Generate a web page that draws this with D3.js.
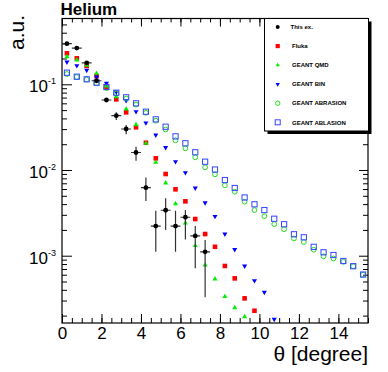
<!DOCTYPE html>
<html>
<head>
<meta charset="utf-8">
<script src="https://cdn.jsdelivr.net/npm/d3@7"></script>
<style>
  body { margin: 0; background: #fff; }
  svg { display: block; font-family: "Liberation Sans", Arial, Helvetica, sans-serif; }
</style>
</head>
<body>
<svg id="chart"></svg>
<script>
// bin centres in degrees (0.5 deg bins)
const thetaBins = [0.25, 0.75, 1.25, 1.75, 2.25, 2.75, 3.25, 3.75, 4.25, 4.75,
  5.25, 5.75, 6.25, 6.75, 7.25, 7.75, 8.25, 8.75, 9.25, 9.75,
  10.25, 10.75, 11.25, 11.75, 12.25, 12.75, 13.25, 13.75, 14.25, 14.75, 15.25];
const binHalfWidth = 0.25;

// this experiment, with lower / upper error
const thisEx = [0.298, 0.265, 0.178, 0.110, 0.0656, 0.0430, 0.0301, 0.0160, 0.00622, 0.00222,
  0.00339, 0.00222, 0.00281, 0.00170, 0.00111];
const thisExLow = [0.290, 0.257, 0.172, 0.106, 0.0625, 0.0383, 0.0261, 0.01284, 0.00435, 0.00111,
  0.00200, 0.00111, 0.00155, 0.000713, 0.000327];
const thisExHigh = [0.306, 0.273, 0.184, 0.114, 0.0690, 0.0471, 0.0335, 0.0187, 0.00818, 0.00335,
  0.00468, 0.00335, 0.00341, 0.00222, 0.00153];

const fluka = [0.230, 0.201, 0.164, 0.125, 0.0923, 0.0668, 0.0471, 0.0315, 0.0208, 0.01368,
  0.00898, 0.00595, 0.00431, 0.00268, 0.00179, 0.00127, 0.000759, 0.000544, 0.000318, 0.000228];
const geantQMD = [0.210, 0.192, 0.167, 0.134, 0.0955, 0.0716, 0.0515, 0.0338, 0.0205, 0.0123,
  0.00705, 0.00404, 0.00241, 0.00131, 0.000778, 0.000535, 0.000333, 0.000247, 0.000194];
const geantBIN = [0.182, 0.165, 0.1457, 0.1217, 0.1027, 0.0813, 0.0644, 0.0479, 0.0354, 0.0256,
  0.0183, 0.0125, 0.0093, 0.00617, 0.00415, 0.00288, 0.00179, 0.00118, 0.000758, 0.000511,
  0.000374, 0.000181];
const geantAbrasion = [0.1319, 0.1217, 0.1138, 0.1035, 0.0905, 0.0781, 0.0683, 0.0581, 0.0466, 0.0376,
  0.0297, 0.0222, 0.0179, 0.01406, 0.01075, 0.00891, 0.00663, 0.00558, 0.00427, 0.00341,
  0.00289, 0.00234, 0.00204, 0.00159, 0.001445, 0.001175, 0.000984, 0.000928, 0.000849, 0.000752,
  0.000600];
const geantAblasion = [0.1366, 0.1227, 0.1144, 0.1044, 0.0930, 0.0798, 0.0705, 0.0600, 0.0479, 0.0390,
  0.0320, 0.0247, 0.0205, 0.0161, 0.0125, 0.01013, 0.00764, 0.00617, 0.00478, 0.00398,
  0.00341, 0.00270, 0.00233, 0.00178, 0.00164, 0.00127, 0.001096, 0.001019, 0.000868, 0.000754,
  0.000603];

const legendLabels = ["This ex.", "Fluka", "GEANT QMD", "GEANT BIN", "GEANT ABRASION", "GEANT ABLASION"];
const xTickLabels = [0, 2, 4, 6, 8, 10, 12, 14];
const yTickLabels = [1e-1, 1e-2, 1e-3];

const width = 388;
const height = 372;
const margin = ({ top: 18.5, right: 20, bottom: 49, left: 62 });
const innerRight = width - margin.right;
const innerBottom = height - margin.bottom;

const svg = d3.select("#chart")
  .attr("width", width)
  .attr("height", height);

// scales
let x = d3.scaleLinear()
  .domain([0, 15.5])
  .range([margin.left, innerRight]);

let y = d3.scaleLog()
  .domain([1.64e-4, 0.586])
  .range([innerBottom, margin.top]);

svg.append("defs").append("clipPath").attr("id", "plotclip")
  .append("rect")
  .attr("x", margin.left).attr("y", margin.top)
  .attr("width", innerRight - margin.left).attr("height", innerBottom - margin.top);

// ticks
const xMinor = d3.range(0, 15.51, 0.5);
const yMinor = y.ticks().filter(d => !yTickLabels.some(m => Math.abs(m - d) / d < 1e-6));

const tickAxis = (g, axis) => g.call(axis)
  .call(g => g.select(".domain").remove())
  .call(g => g.selectAll("line").attr("stroke", "#000"));

svg.append("g").attr("transform", `translate(0,${innerBottom})`)
  .call(g => tickAxis(g, d3.axisBottom(x).tickValues(xTickLabels).tickSize(-9).tickFormat(d3.format("d"))))
  .call(g => g.selectAll("text")
    .attr("dy", null).attr("y", 16)
    .attr("font-size", 17).attr("font-family", null).attr("fill", "#000"));
svg.append("g").attr("transform", `translate(0,${innerBottom})`)
  .call(g => tickAxis(g, d3.axisBottom(x).tickValues(xMinor).tickSize(-5).tickFormat("")));
svg.append("g").attr("transform", `translate(0,${margin.top})`)
  .call(g => tickAxis(g, d3.axisTop(x).tickValues(xTickLabels).tickSize(-8).tickFormat("")));
svg.append("g").attr("transform", `translate(0,${margin.top})`)
  .call(g => tickAxis(g, d3.axisTop(x).tickValues(xMinor).tickSize(-4).tickFormat("")));

svg.append("g").attr("transform", `translate(${margin.left},0)`)
  .call(g => tickAxis(g, d3.axisLeft(y).tickValues(yTickLabels).tickSize(-10).tickFormat("")));
svg.append("g").attr("transform", `translate(${margin.left},0)`)
  .call(g => tickAxis(g, d3.axisLeft(y).tickValues(yMinor).tickSize(-5).tickFormat("")));
svg.append("g").attr("transform", `translate(${innerRight},0)`)
  .call(g => tickAxis(g, d3.axisRight(y).tickValues(yTickLabels).tickSize(-9).tickFormat("")));
svg.append("g").attr("transform", `translate(${innerRight},0)`)
  .call(g => tickAxis(g, d3.axisRight(y).tickValues(yMinor).tickSize(-5).tickFormat("")));

// y labels 10^-n
const yLab = svg.append("g").selectAll("text")
  .data(yTickLabels)
  .enter()
  .append("text")
  .attr("x", 56)
  .attr("y", d => y(d) + 8)
  .attr("text-anchor", "end")
  .attr("font-size", 17);
yLab.append("tspan").text("10");
yLab.append("tspan")
  .attr("font-size", 9)
  .attr("dy", -8)
  .text(d => "-" + Math.round(-Math.log10(d)));

// frame
svg.append("rect")
  .attr("x", margin.left).attr("y", margin.top)
  .attr("width", innerRight - margin.left).attr("height", innerBottom - margin.top)
  .attr("fill", "none").attr("stroke", "#000").attr("stroke-width", 1.2);

// data
const plot = svg.append("g").attr("clip-path", "url(#plotclip)");

const sq = 4.6;
const tri = 11;

function series(values) {
  return values.map((v, i) => ({ t: thetaBins[i], v: v }));
}

function drawMarkers(values, kind, colour) {
  const g = plot.append("g");
  const pts = series(values);
  if (kind === "square") {
    g.selectAll("rect").data(pts).enter().append("rect")
      .attr("x", d => x(d.t) - sq / 2).attr("y", d => y(d.v) - sq / 2)
      .attr("width", sq).attr("height", sq).attr("fill", colour);
  } else if (kind === "openSquare") {
    g.selectAll("rect").data(pts).enter().append("rect")
      .attr("x", d => x(d.t) - 2.6).attr("y", d => y(d.v) - 2.6)
      .attr("width", 5.2).attr("height", 5.2)
      .attr("fill", "none").attr("stroke", colour).attr("stroke-width", 1);
  } else if (kind === "openCircle") {
    g.selectAll("circle").data(pts).enter().append("circle")
      .attr("cx", d => x(d.t)).attr("cy", d => y(d.v)).attr("r", 2.4)
      .attr("fill", "none").attr("stroke", colour).attr("stroke-width", 1);
  } else if (kind === "circle") {
    g.selectAll("circle").data(pts).enter().append("circle")
      .attr("cx", d => x(d.t)).attr("cy", d => y(d.v)).attr("r", 2.4)
      .attr("fill", colour);
  } else {
    g.selectAll("path").data(pts).enter().append("path")
      .attr("d", d3.symbol(d3.symbolTriangle, tri))
      .attr("transform", d => `translate(${x(d.t)},${y(d.v)})` + (kind === "triDown" ? " rotate(180)" : ""))
      .attr("fill", colour);
  }
}

drawMarkers(fluka, "square", "#ff0000");
drawMarkers(geantQMD, "triUp", "#00ee00");
drawMarkers(geantBIN, "triDown", "#0000ff");
drawMarkers(geantAbrasion, "openCircle", "#22dd22");
drawMarkers(geantAblasion, "openSquare", "#3344ff");

// this experiment with error bars
const exPts = thisEx.map((v, i) => ({ t: thetaBins[i], v: v, lo: thisExLow[i], hi: thisExHigh[i] }));
const exG = plot.append("g");
exG.selectAll(".ey").data(exPts).enter().append("line")
  .attr("x1", d => x(d.t)).attr("x2", d => x(d.t))
  .attr("y1", d => y(d.lo)).attr("y2", d => y(d.hi))
  .attr("stroke", "#333").attr("stroke-width", 1.2);
exG.selectAll(".ex").data(exPts).enter().append("line")
  .attr("x1", d => x(d.t - binHalfWidth)).attr("x2", d => x(d.t + binHalfWidth))
  .attr("y1", d => y(d.v)).attr("y2", d => y(d.v))
  .attr("stroke", "#333").attr("stroke-width", 1.2);
drawMarkers(thisEx, "circle", "#000");

// legend
const legX = 264.5, legY = 18.5, legW = 104, legH = 112.5;
svg.append("rect").attr("x", legX + 3).attr("y", legY + 3)
  .attr("width", legW).attr("height", legH).attr("fill", "#000");
svg.append("rect").attr("x", legX).attr("y", legY)
  .attr("width", legW).attr("height", legH)
  .attr("fill", "#fff").attr("stroke", "#000").attr("stroke-width", 1);

const legendKinds = [
  ["circle", "#000"], ["square", "#ff0000"], ["triUp", "#00ee00"],
  ["triDown", "#0000ff"], ["openCircle", "#22dd22"], ["openSquare", "#3344ff"]
];
const leg = svg.append("g");
legendLabels.forEach((lab, i) => {
  const ly = 27 + i * 19.06;
  const [kind, colour] = legendKinds[i];
  const mx = 277.7;
  if (kind === "circle") {
    leg.append("circle").attr("cx", mx).attr("cy", ly).attr("r", 2).attr("fill", colour);
  } else if (kind === "square") {
    leg.append("rect").attr("x", mx - 2.1).attr("y", ly - 2.1).attr("width", 4.2).attr("height", 4.2).attr("fill", colour);
  } else if (kind === "openCircle") {
    leg.append("circle").attr("cx", mx).attr("cy", ly).attr("r", 2.2)
      .attr("fill", "none").attr("stroke", colour);
  } else if (kind === "openSquare") {
    leg.append("rect").attr("x", mx - 2.5).attr("y", ly - 2.5).attr("width", 5).attr("height", 5)
      .attr("fill", "none").attr("stroke", colour);
  } else {
    leg.append("path").attr("d", d3.symbol(d3.symbolTriangle, 8))
      .attr("transform", `translate(${mx},${ly})` + (kind === "triDown" ? " rotate(180)" : ""))
      .attr("fill", colour);
  }
  leg.append("text")
    .attr("x", i === 0 ? 290.5 : 292)
    .attr("y", ly + 2.2)
    .attr("font-size", 6)
    .attr("font-weight", "bold")
    .text(lab);
});

// titles
svg.append("text")
  .attr("x", 60.5).attr("y", 15)
  .attr("font-size", 17).attr("font-weight", "bold")
  .text("Helium");

svg.append("text")
  .attr("transform", "translate(24,15) rotate(-90)")
  .attr("text-anchor", "end")
  .attr("font-size", 21)
  .text("a.u.");

svg.append("text")
  .attr("x", innerRight).attr("y", 361)
  .attr("text-anchor", "end")
  .attr("font-size", 21)
  .text("θ [degree]");
</script>
</body>
</html>
